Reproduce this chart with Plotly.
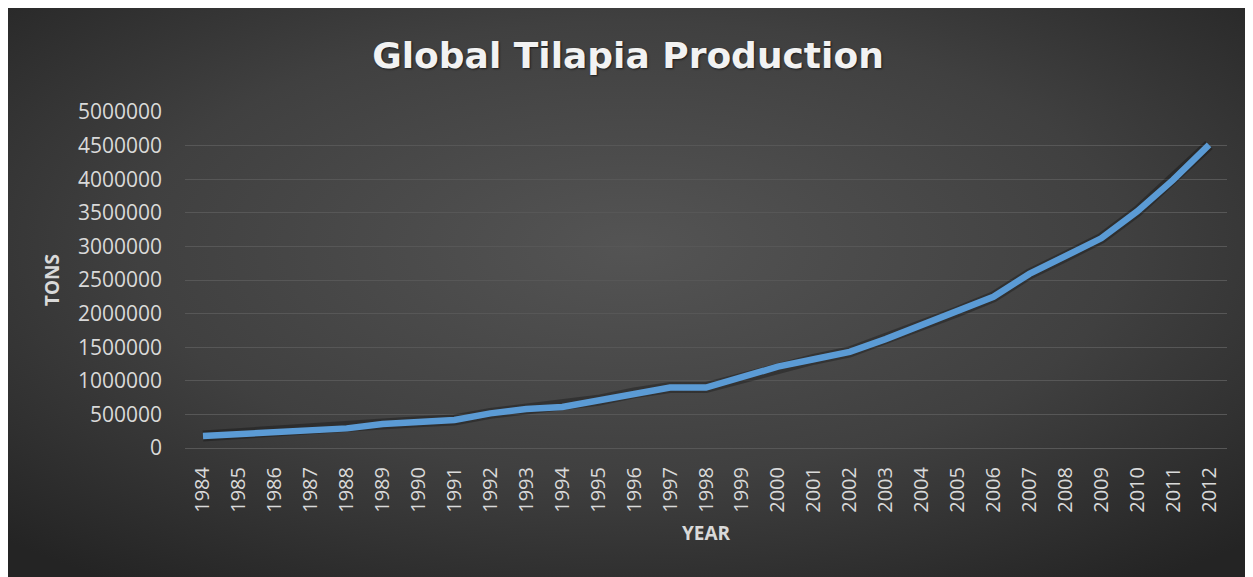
import base64

import plotly.graph_objects as go

years = [str(y) for y in range(1984, 2013)]
tons = [
    178000, 210000, 222000, 262000, 292000, 358000, 392000, 418000,
    515000, 580000, 610000, 710000, 820000, 900000, 900000, 1050000,
    1210000, 1320000, 1430000, 1620000, 1825000, 2030000, 2250000,
    2590000, 2850000, 3120000, 3520000, 3990000, 4510000,
]
y_ticks = list(range(0, 5000001, 500000))

# the page body adds an 8px margin, so the figure is sized to fit inside it
W, H = 1245, 569
L, R, T, B = 177, 26, 104, 129
FONT = "Open Sans, Liberation Sans, sans-serif"
TXT = "#d9d9d9"

# dark radial backdrop like the Office chart style
svg = (
    '<svg xmlns="http://www.w3.org/2000/svg" width="1245" height="569">'
    '<defs><radialGradient id="g" cx="50%" cy="42%" r="72%">'
    '<stop offset="0" stop-color="#545454"/>'
    '<stop offset="0.55" stop-color="#404040"/>'
    '<stop offset="1" stop-color="#242424"/>'
    '</radialGradient></defs>'
    '<rect width="100%" height="100%" fill="url(#g)"/></svg>'
)
bg = "data:image/svg+xml;base64," + base64.b64encode(svg.encode()).decode()

pw, ph = W - L - R, H - T - B

fig = go.Figure()
fig.add_trace(go.Scatter(
    x=years, y=tons, mode="lines", hoverinfo="skip",
    line=dict(color="rgba(0,0,0,0.28)", width=11),
))
fig.add_trace(go.Scatter(
    x=years, y=tons, mode="lines",
    line=dict(color="#5b9bd5", width=6.5),
))

fig.update_layout(
    width=W, height=H,
    margin=dict(l=L, r=R, t=T, b=B),
    paper_bgcolor="#333333", plot_bgcolor="rgba(0,0,0,0)",
    showlegend=False,
    font=dict(family=FONT, size=21, color=TXT),
    title=dict(
        text="<b>Global Tilapia Production</b>",
        x=620 / W, xanchor="center",
        y=1 - 47 / H, yanchor="middle",
        font=dict(family="DejaVu Sans, sans-serif", size=36, color="#f2f2f2",
                  shadow="1px 1px 2px rgba(0,0,0,0.6)"),
    ),
    images=[dict(
        source=bg, xref="paper", yref="paper",
        x=-L / pw, y=1 + T / ph, sizex=W / pw, sizey=H / ph,
        xanchor="left", yanchor="top", sizing="stretch", layer="below",
    )],
)

fig.update_xaxes(
    type="category", range=[-0.5, len(years) - 0.5],
    tickangle=-90, ticks="", showgrid=False, zeroline=False,
    showline=False, ticklabelstandoff=14,
    tickfont=dict(family=FONT, size=20, color=TXT),
    title=dict(text="<b>YEAR</b>", standoff=14,
               font=dict(family=FONT, size=19, color=TXT)),
)
fig.update_yaxes(
    range=[0, 5000000], tickvals=y_ticks, ticktext=[str(v) for v in y_ticks],
    showgrid=True, gridcolor="#575757", gridwidth=1.3,
    zeroline=True, zerolinecolor="#575757", zerolinewidth=1.3,
    ticks="", ticklabelstandoff=22,
    tickfont=dict(family=FONT, size=21, color=TXT),
    title=dict(text="<b>TONS</b>", standoff=13,
               font=dict(family=FONT, size=19, color=TXT)),
)

fig.write_html("out.html")
